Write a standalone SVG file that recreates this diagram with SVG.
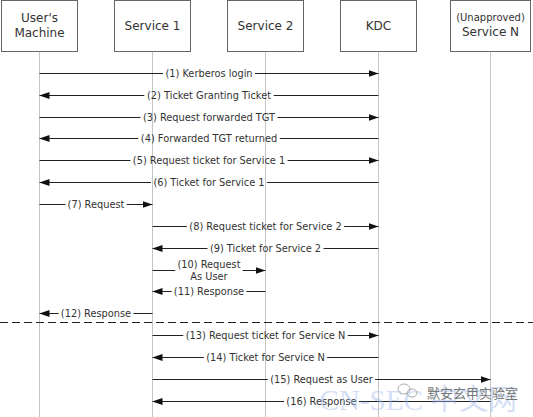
<svg xmlns="http://www.w3.org/2000/svg" width="533" height="417" viewBox="0 0 533 417">
<style>
.box{fill:#fff;stroke:#666;stroke-width:1}
.life{stroke:#888;stroke-width:1;stroke-dasharray:1,1;fill:none}
.hd{font-family:"DejaVu Sans",Verdana,sans-serif;font-size:12px;fill:#333;text-anchor:middle}
.hs{font-family:"DejaVu Sans",Verdana,sans-serif;font-size:10px;fill:#333;text-anchor:middle}
.msg{stroke:#222;stroke-width:1;fill:none}
.arr{stroke:#222;stroke-width:1;fill:none;marker-end:url(#ah)}
.lb{font-family:"DejaVu Sans",Verdana,sans-serif;font-size:9.8px;fill:#333;text-anchor:middle}
.sep{stroke:#222;stroke-width:1;stroke-dasharray:8,4}
</style>
<defs>
<marker id="ah" markerUnits="userSpaceOnUse" markerWidth="10" markerHeight="7" refX="10" refY="3.5" orient="auto">
<path d="M0,0 L10,3.5 L0,7 z" fill="#111"/>
</marker>
</defs>
<rect width="533" height="417" fill="#fff"/>
<g id="users-machine">
<rect class="box" x="1.5" y="0.5" width="76" height="51"/>
<line class="life" x1="39.5" y1="51.5" x2="39.5" y2="417"/>
<text class="hd" x="39.5" y="22">User's</text>
<text class="hd" x="39.5" y="37">Machine</text>
</g>
<g id="service-1">
<rect class="box" x="114.5" y="0.5" width="76" height="51"/>
<line class="life" x1="152.5" y1="51.5" x2="152.5" y2="417"/>
<text class="hd" x="152.5" y="30">Service 1</text>
</g>
<g id="service-2">
<rect class="box" x="227.5" y="0.5" width="76" height="51"/>
<line class="life" x1="265.5" y1="51.5" x2="265.5" y2="417"/>
<text class="hd" x="265.5" y="30">Service 2</text>
</g>
<g id="kdc">
<rect class="box" x="340.5" y="0.5" width="76" height="51"/>
<line class="life" x1="378.5" y1="51.5" x2="378.5" y2="417"/>
<text class="hd" x="378.5" y="30">KDC</text>
</g>
<g id="service-n">
<rect class="box" x="450.5" y="0.5" width="80" height="51"/>
<line class="life" x1="490.5" y1="51.5" x2="490.5" y2="417"/>
<text class="hs" x="490.5" y="20.5">(Unapproved)</text>
<text class="hd" x="490.5" y="35.5">Service N</text>
</g>
<g id="connectors">
<line class="msg" x1="39.5" y1="73.5" x2="163" y2="73.5"/><line class="arr" x1="255" y1="73.5" x2="378.5" y2="73.5"/>
<text class="lb" x="209" y="77">(1) Kerberos login</text>
<line class="msg" x1="378.5" y1="95.5" x2="273.7" y2="95.5"/><line class="arr" x1="144.3" y1="95.5" x2="39.5" y2="95.5"/>
<text class="lb" x="209" y="99">(2) Ticket Granting Ticket</text>
<line class="msg" x1="39.5" y1="117.5" x2="140.5" y2="117.5"/><line class="arr" x1="277.5" y1="117.5" x2="378.5" y2="117.5"/>
<text class="lb" x="209" y="121">(3) Request forwarded TGT</text>
<line class="msg" x1="378.5" y1="138.5" x2="279.8" y2="138.5"/><line class="arr" x1="138.2" y1="138.5" x2="39.5" y2="138.5"/>
<text class="lb" x="209" y="142">(4) Forwarded TGT returned</text>
<line class="msg" x1="39.5" y1="160.5" x2="130.4" y2="160.5"/><line class="arr" x1="287.6" y1="160.5" x2="378.5" y2="160.5"/>
<text class="lb" x="209" y="164">(5) Request ticket for Service 1</text>
<line class="msg" x1="378.5" y1="182.5" x2="267" y2="182.5"/><line class="arr" x1="151" y1="182.5" x2="39.5" y2="182.5"/>
<text class="lb" x="209" y="186">(6) Ticket for Service 1</text>
<line class="msg" x1="39.5" y1="204.5" x2="65.4" y2="204.5"/><line class="arr" x1="126.6" y1="204.5" x2="152.5" y2="204.5"/>
<text class="lb" x="96" y="208">(7) Request</text>
<line class="msg" x1="152.5" y1="226.5" x2="186.9" y2="226.5"/><line class="arr" x1="344.1" y1="226.5" x2="378.5" y2="226.5"/>
<text class="lb" x="265.5" y="230">(8) Request ticket for Service 2</text>
<line class="msg" x1="378.5" y1="248.5" x2="323.5" y2="248.5"/><line class="arr" x1="207.5" y1="248.5" x2="152.5" y2="248.5"/>
<text class="lb" x="265.5" y="252">(9) Ticket for Service 2</text>
<line class="msg" x1="152.5" y1="270.5" x2="175.3" y2="270.5"/><line class="arr" x1="242.7" y1="270.5" x2="265.5" y2="270.5"/>
<text class="lb" x="209" y="267.5">(10) Request</text>
<text class="lb" x="209" y="279.5">As User</text>
<line class="msg" x1="265.5" y1="291.5" x2="246.4" y2="291.5"/><line class="arr" x1="171.6" y1="291.5" x2="152.5" y2="291.5"/>
<text class="lb" x="209" y="295">(11) Response</text>
<line class="msg" x1="152.5" y1="313.5" x2="133.4" y2="313.5"/><line class="arr" x1="58.6" y1="313.5" x2="39.5" y2="313.5"/>
<text class="lb" x="96" y="317">(12) Response</text>
<line class="sep" x1="0" y1="322.5" x2="533" y2="322.5"/>
<line class="msg" x1="152.5" y1="335.5" x2="183.3" y2="335.5"/><line class="arr" x1="347.7" y1="335.5" x2="378.5" y2="335.5"/>
<text class="lb" x="265.5" y="339">(13) Request ticket for Service N</text>
<line class="msg" x1="378.5" y1="357.5" x2="327.1" y2="357.5"/><line class="arr" x1="203.9" y1="357.5" x2="152.5" y2="357.5"/>
<text class="lb" x="265.5" y="361">(14) Ticket for Service N</text>
<line class="msg" x1="152.5" y1="379.5" x2="267.9" y2="379.5"/><line class="arr" x1="375.1" y1="379.5" x2="490.5" y2="379.5"/>
<text class="lb" x="321.5" y="383">(15) Request as User</text>
<line class="msg" x1="490.5" y1="401.5" x2="358.9" y2="401.5"/><line class="arr" x1="284.1" y1="401.5" x2="152.5" y2="401.5"/>
<text class="lb" x="321.5" y="405">(16) Response</text>
</g>
<g id="watermark">
<text x="517" y="410" text-anchor="end" font-family="'Liberation Serif','Noto Sans CJK SC',serif" font-size="29px" fill="#9db8ea" fill-opacity="0.45">CN-SEC 中文网</text>
<ellipse cx="404" cy="389" rx="6" ry="5" fill="none" stroke="#aaa" stroke-width="1"/>
<ellipse cx="412" cy="393" rx="5" ry="4" fill="none" stroke="#aaa" stroke-width="1"/>
<text x="427" y="397.5" font-family="'Noto Sans CJK SC',sans-serif" font-size="13px" fill="#777">默安玄甲实验室</text>
</g>
</svg>
